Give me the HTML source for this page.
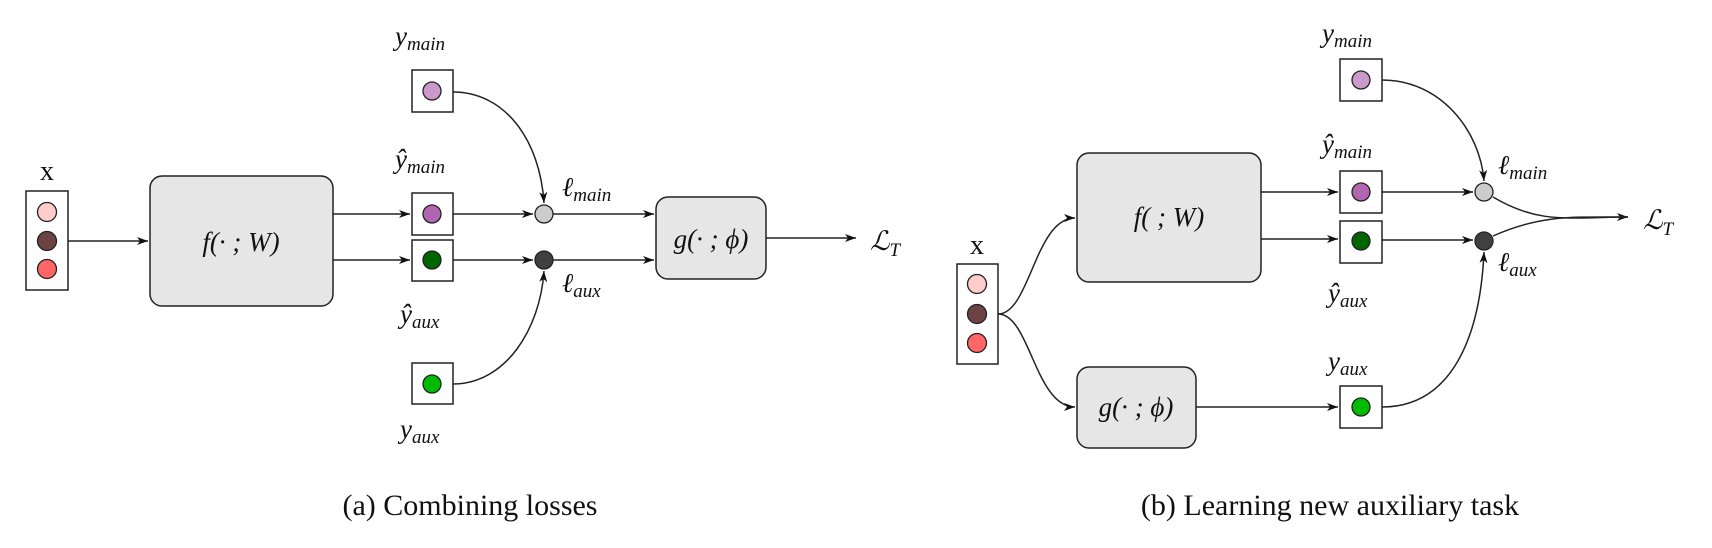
<!DOCTYPE html>
<html><head><meta charset="utf-8"><style>
html,body{margin:0;padding:0;background:#fff}
svg{display:block}
text{font-family:"Liberation Serif","DejaVu Serif",serif;fill:#111}
.m{font-style:italic;font-size:27px}
.s{font-size:19px;font-style:italic}
.cap{font-size:30px}
</style></head><body>
<svg width="1712" height="548" viewBox="0 0 1712 548" xmlns="http://www.w3.org/2000/svg">
<defs>
<marker id="a" markerWidth="12" markerHeight="10" refX="11" refY="5" orient="auto" markerUnits="userSpaceOnUse">
<path d="M0,1 L11,5 L0,9 L3,5 Z" fill="#111"/></marker>
</defs>
<g stroke="#222" stroke-width="1.5" fill="none">
<!-- Panel A -->
<rect x="26" y="191" width="42" height="99" fill="#fff"/>
<rect x="150" y="176" width="183" height="130" rx="12" fill="#e6e6e6"/>
<rect x="412" y="70" width="41" height="42" fill="#fff"/>
<rect x="412" y="193" width="41" height="42" fill="#fff"/>
<rect x="412" y="240" width="41" height="41" fill="#fff"/>
<rect x="412" y="363" width="41" height="41" fill="#fff"/>
<rect x="656" y="197" width="110" height="82" rx="12" fill="#e6e6e6"/>
<path d="M68,241 H148" marker-end="url(#a)"/>
<path d="M333,214 H410" marker-end="url(#a)"/>
<path d="M333,260 H410" marker-end="url(#a)"/>
<path d="M453,214 H533" marker-end="url(#a)"/>
<path d="M453,260 H533" marker-end="url(#a)"/>
<path d="M553,214 H654" marker-end="url(#a)"/>
<path d="M553,260 H654" marker-end="url(#a)"/>
<path d="M453,92 C505,92 540,140 544,203" marker-end="url(#a)"/>
<path d="M453,384 C505,384 540,330 544,271" marker-end="url(#a)"/>
<path d="M766,238 H856" marker-end="url(#a)"/>
<!-- Panel B -->
<rect x="957" y="264" width="41" height="100" fill="#fff"/>
<rect x="1077" y="153" width="184" height="129" rx="12" fill="#e6e6e6"/>
<rect x="1077" y="367" width="119" height="81" rx="12" fill="#e6e6e6"/>
<rect x="1340" y="59" width="42" height="42" fill="#fff"/>
<rect x="1340" y="171" width="42" height="42" fill="#fff"/>
<rect x="1340" y="221" width="42" height="42" fill="#fff"/>
<rect x="1340" y="386" width="42" height="42" fill="#fff"/>
<path d="M998,314 C1030,314 1035,218 1075,218" marker-end="url(#a)"/>
<path d="M998,314 C1030,314 1035,407 1075,407" marker-end="url(#a)"/>
<path d="M1261,192 H1338" marker-end="url(#a)"/>
<path d="M1261,239 H1338" marker-end="url(#a)"/>
<path d="M1196,407 H1338" marker-end="url(#a)"/>
<path d="M1382,192 H1473" marker-end="url(#a)"/>
<path d="M1382,240 H1473" marker-end="url(#a)"/>
<path d="M1382,80 C1440,80 1480,130 1484,181" marker-end="url(#a)"/>
<path d="M1382,407 C1450,407 1480,340 1484,252" marker-end="url(#a)"/>
<path d="M1493,197 C1540,225 1570,217 1628,217" marker-end="url(#a)"/>
<path d="M1493,236 C1540,215 1570,217 1628,217"/>
</g>
<g stroke="#222" stroke-width="1.3">
<circle cx="47" cy="212" r="9.5" fill="#ffcccc"/>
<circle cx="47" cy="241" r="9.5" fill="#6b4343"/>
<circle cx="47" cy="269" r="9.5" fill="#ff6666"/>
<circle cx="432" cy="91" r="9" fill="#cc99cc"/>
<circle cx="432" cy="214" r="9" fill="#b266b2"/>
<circle cx="432" cy="260" r="9" fill="#006600"/>
<circle cx="432" cy="384" r="9" fill="#00bb00"/>
<circle cx="544" cy="214" r="9" fill="#cccccc"/>
<circle cx="544" cy="260" r="9" fill="#404040"/>
<circle cx="977" cy="284" r="9.5" fill="#ffcccc"/>
<circle cx="977" cy="314" r="9.5" fill="#6b4343"/>
<circle cx="977" cy="343" r="9.5" fill="#ff6666"/>
<circle cx="1361" cy="80" r="9" fill="#cc99cc"/>
<circle cx="1361" cy="192" r="9" fill="#b266b2"/>
<circle cx="1361" cy="241" r="9" fill="#006600"/>
<circle cx="1361" cy="407" r="9" fill="#00bb00"/>
<circle cx="1484" cy="192" r="9" fill="#cccccc"/>
<circle cx="1484" cy="241" r="9" fill="#404040"/>
</g>
<!-- Panel A labels -->
<text x="47" y="180" font-size="28" text-anchor="middle">x</text>
<text x="241" y="251" class="m" text-anchor="middle">f(· ; W)</text>
<text x="711" y="248" class="m" text-anchor="middle">g(· ; ϕ)</text>
<text x="395" y="45" class="m">y<tspan class="s" dy="5">main</tspan></text>
<text x="395" y="168" class="m">ŷ<tspan class="s" dy="5">main</tspan></text>
<text x="400" y="323" class="m">ŷ<tspan class="s" dy="5">aux</tspan></text>
<text x="400" y="438" class="m">y<tspan class="s" dy="5">aux</tspan></text>
<text x="562" y="196" class="m">ℓ<tspan class="s" dy="5">main</tspan></text>
<text x="562" y="292" class="m">ℓ<tspan class="s" dy="5">aux</tspan></text>
<text x="870" y="250" class="m" font-size="30">ℒ<tspan class="s" dy="6">T</tspan></text>
<text x="470" y="515" class="cap" text-anchor="middle">(a) Combining losses</text>
<!-- Panel B labels -->
<text x="977" y="254" font-size="28" text-anchor="middle">x</text>
<text x="1169" y="226" class="m" text-anchor="middle">f( ; W)</text>
<text x="1136" y="416" class="m" text-anchor="middle">g(· ; ϕ)</text>
<text x="1322" y="42" class="m">y<tspan class="s" dy="5">main</tspan></text>
<text x="1322" y="153" class="m">ŷ<tspan class="s" dy="5">main</tspan></text>
<text x="1328" y="302" class="m">ŷ<tspan class="s" dy="5">aux</tspan></text>
<text x="1328" y="370" class="m">y<tspan class="s" dy="5">aux</tspan></text>
<text x="1498" y="174" class="m">ℓ<tspan class="s" dy="5">main</tspan></text>
<text x="1498" y="271" class="m">ℓ<tspan class="s" dy="5">aux</tspan></text>
<text x="1643" y="229" class="m" font-size="30">ℒ<tspan class="s" dy="6">T</tspan></text>
<text x="1330" y="515" class="cap" text-anchor="middle">(b) Learning new auxiliary task</text>
</svg>
</body></html>
